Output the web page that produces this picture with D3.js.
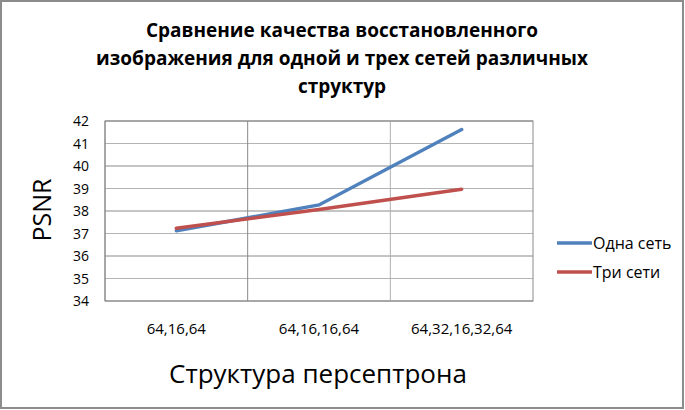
<!DOCTYPE html>
<html>
<head>
<meta charset="utf-8">
<script src="https://cdn.jsdelivr.net/npm/d3@7"></script>
<style>
  body { margin: 0; background: #fff; }
  text { font-family: "Open Sans", sans-serif; fill: #000; }
</style>
</head>
<body>
<div id="chart"></div>
<script>
// Chart data
var categories = ["64,16,64", "64,16,16,64", "64,32,16,32,64"];
var oneNet = [37.12, 38.27, 41.62];
var threeNets = [37.23, 38.07, 38.97];
var seriesNames = ["Одна сеть", "Три сети"];
var yTicks = [34, 35, 36, 37, 38, 39, 40, 41, 42];
var titleLines = ["Сравнение качества восстановленного",
  "изображения для одной и трех сетей различных", "структур"];

var w = 685;
var h = 410;

var svg = d3.select("#chart")
  .append("svg")
  .attr("width", w)
  .attr("height", h);

// outer frame
svg.append("rect")
  .attr("x", 1).attr("y", 1)
  .attr("width", w - 3).attr("height", h - 3)
  .attr("fill", "#fff")
  .attr("stroke", "#8c8c8c")
  .attr("stroke-width", 2);

// plot area bounds
var pLeft = 105, pRight = 533, pTop = 121, pBottom = 301;

var xScale = d3.scaleBand()
  .domain(categories)
  .range([pLeft, pRight]);

var yScale = d3.scaleLinear()
  .domain([34, 42])
  .range([pBottom, pTop]);

// horizontal grid
svg.append("g")
  .selectAll("line")
  .data(yTicks)
  .enter().append("line")
  .attr("x1", pLeft).attr("x2", pRight)
  .attr("y1", d => yScale(d)).attr("y2", d => yScale(d))
  .attr("stroke", (d, i) => i % 2 ? "#b4b4b4" : "#8a8a8a")
  .attr("stroke-width", 1);

// vertical grid at category borders
svg.append("g")
  .selectAll("line")
  .data(categories)
  .enter().append("line")
  .attr("x1", d => xScale(d)).attr("x2", d => xScale(d))
  .attr("y1", pTop).attr("y2", pBottom)
  .attr("stroke", (d, i) => i == 2 ? "#b0b0b0" : "#8a8a8a");

// plot area box
svg.append("rect")
  .attr("x", pLeft).attr("y", pTop)
  .attr("width", pRight - pLeft).attr("height", pBottom - pTop)
  .attr("fill", "none")
  .attr("stroke", "#8a8a8a");

// y tick labels
svg.append("g")
  .selectAll("text")
  .data(yTicks)
  .enter().append("text")
  .attr("x", 89)
  .attr("y", d => yScale(d) + 5)
  .attr("text-anchor", "end")
  .style("font-size", "14px")
  .text(d => d);

// x tick labels
svg.append("g")
  .selectAll("text")
  .data(categories)
  .enter().append("text")
  .attr("x", d => xScale(d) + xScale.bandwidth() / 2)
  .attr("y", 334)
  .attr("text-anchor", "middle")
  .style("font-size", "15px")
  .text(d => d);

// lines
var line = d3.line()
  .x((d, i) => xScale(categories[i]) + xScale.bandwidth() / 2)
  .y(d => yScale(d));

var colors = ["#4f81bd", "#c0504d"];
[oneNet, threeNets].forEach(function(s, k) {
  svg.append("path")
    .datum(s)
    .attr("d", line)
    .attr("fill", "none")
    .attr("stroke", colors[k])
    .attr("stroke-width", 3.5)
    .attr("stroke-linecap", "round");
});

// legend
seriesNames.forEach(function(name, k) {
  var y = 243 + k * 29;
  svg.append("line")
    .attr("x1", 557).attr("x2", 592)
    .attr("y1", y).attr("y2", y)
    .attr("stroke", colors[k])
    .attr("stroke-width", 3.5);
  svg.append("text")
    .attr("x", 593)
    .attr("y", y + 6)
    .style("font-size", "16px")
    .text(name);
});

// title
svg.append("g")
  .selectAll("text")
  .data(titleLines)
  .enter().append("text")
  .attr("x", 342)
  .attr("y", (d, i) => 37 + i * 28)
  .attr("text-anchor", "middle")
  .style("font-size", "19px")
  .style("font-weight", "bold")
  .text(d => d);

// axis titles
svg.append("text")
  .attr("transform", "translate(51,210) rotate(-90)")
  .attr("text-anchor", "middle")
  .style("font-size", "25px")
  .text("PSNR");

svg.append("text")
  .attr("x", 318)
  .attr("y", 383)
  .attr("text-anchor", "middle")
  .style("font-size", "26px")
  .text("Структура персептрона");
</script>
</body>
</html>
